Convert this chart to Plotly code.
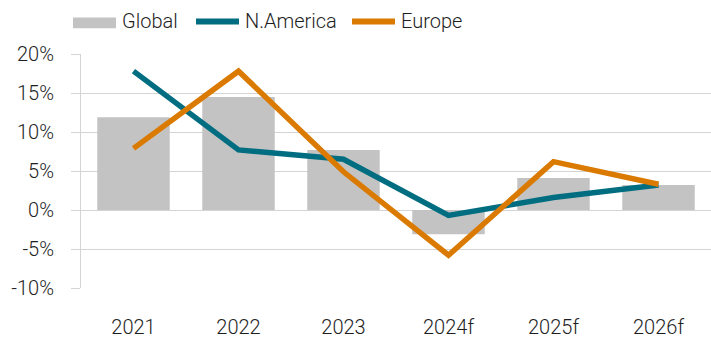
import plotly.graph_objects as go

# Annual growth rates (%)
years = ["2021", "2022", "2023", "2024f", "2025f", "2026f"]
global_growth = [11.9, 14.5, 7.7, -3.1, 4.1, 3.2]
north_america = [17.8, 7.7, 6.5, -0.7, 1.6, 3.2]
europe = [7.9, 17.8, 4.9, -5.8, 6.2, 3.3]

y_ticks = [-10, -5, 0, 5, 10, 15, 20]

GRAY = "#C3C3C3"
TEAL = "#006D81"
ORANGE = "#DA7A00"
GRID = "#D4D4D4"
TEXT = "#1E1E1E"
FONT = "Roboto, sans-serif"
FSIZE = 20
FWEIGHT = 300

W, H = 711, 339
L, R, T, B = 81, 0, 54, 48

def font(size=FSIZE):
    return dict(size=size, color=TEXT, family=FONT, weight=FWEIGHT)

fig = go.Figure()
fig.add_trace(go.Bar(x=years, y=global_growth, name="Global",
                     marker=dict(color=GRAY, line=dict(width=0))))
fig.add_trace(go.Scatter(x=years, y=north_america, name="N.America", mode="lines",
                         line=dict(color=TEAL, width=5.5)))
fig.add_trace(go.Scatter(x=years, y=europe, name="Europe", mode="lines",
                         line=dict(color=ORANGE, width=5.5)))

# Legend row drawn above the plot area, in pixel positions converted to paper units
pw, ph = W - L - R, H - T - B
def px(x):
    return (x - L) / pw
def py(y):
    return (H - B - y) / ph

shapes = [
    dict(type="rect", xref="paper", yref="paper", x0=px(73), x1=px(116),
         y0=py(28), y1=py(17), fillcolor=GRAY, line=dict(width=0)),
    dict(type="line", xref="paper", yref="paper", x0=px(196), x1=px(239),
         y0=py(21), y1=py(21), line=dict(color=TEAL, width=6)),
    dict(type="line", xref="paper", yref="paper", x0=px(352), x1=px(395),
         y0=py(21), y1=py(21), line=dict(color=ORANGE, width=6)),
]
labels = [("Global", 120), ("N.America", 243), ("Europe", 399)]
annotations = [
    dict(text=t, xref="paper", yref="paper", x=px(x0), y=py(21), xanchor="left",
         yanchor="middle", showarrow=False, font=font())
    for t, x0 in labels
]

fig.update_layout(
    width=W, height=H,
    margin=dict(l=L, r=R, t=T, b=B),
    paper_bgcolor="white", plot_bgcolor="white",
    showlegend=False,
    bargap=0.31,
    font=font(),
    shapes=shapes,
    annotations=annotations,
)
fig.update_xaxes(
    showgrid=False, showline=False, ticks="outside", ticklen=0,
    ticklabelstandoff=21, tickfont=font(),
)
fig.update_yaxes(
    range=[-10, 20], tickvals=y_ticks, ticktext=[f"{v}%" for v in y_ticks],
    showgrid=True, gridcolor=GRID, gridwidth=1,
    zeroline=True, zerolinecolor=GRID, zerolinewidth=1,
    showline=True, linecolor=GRID, linewidth=1,
    ticks="outside", ticklen=9, tickcolor=GRID, ticklabelstandoff=13,
    tickfont=font(),
)

fig.write_html("out.html")
